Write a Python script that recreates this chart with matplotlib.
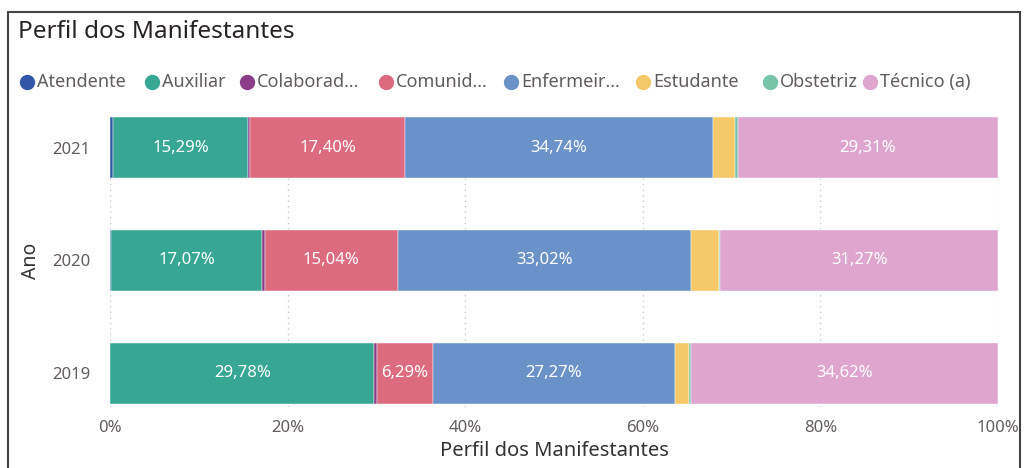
import numpy as np
import matplotlib.pyplot as plt
from matplotlib.lines import Line2D
from matplotlib.patches import Rectangle

# Data (percent shares per year)
anos = ['2019', '2020', '2021']
categorias = ['Atendente', 'Auxiliar', 'Colaborad...', 'Comunid...',
              'Enfermeir...', 'Estudante', 'Obstetriz', 'Técnico (a)']
atendente = [0.00, 0.10, 0.30]
auxiliar = [29.78, 17.07, 15.29]
colaborador = [0.25, 0.25, 0.20]
comunidade = [6.29, 15.04, 17.40]
enfermeiro = [27.27, 33.02, 34.74]
estudante = [1.65, 3.15, 2.43]
obstetriz = [0.14, 0.10, 0.33]
tecnico = [34.62, 31.27, 29.31]

series = [atendente, auxiliar, colaborador, comunidade,
          enfermeiro, estudante, obstetriz, tecnico]
cores = ['#3257A8', '#37A794', '#8B3D88', '#DD6B7F',
         '#6B91C9', '#F5C869', '#77C4A8', '#DEA6CF']

plt.rcParams['font.family'] = ['Noto Sans', 'DejaVu Sans']
txt = '#605E5C'
W, H = 1025, 468

fig = plt.figure(figsize=(10.25, 4.68), dpi=100)
ax = fig.add_axes([110 / W, 1 - 407 / H, 888 / W, 293 / H])

y = np.arange(len(anos))
left = np.zeros(len(anos))
for nome, vals, cor in zip(categorias, series, cores):
    vals = np.array(vals)
    bars = ax.barh(y, vals, left=left, height=0.54, color=cor,
                   edgecolor='white', linewidth=0.3, label=nome)
    labels = [f'{v:.2f}%'.replace('.', ',') if v >= 5 else '' for v in vals]
    ax.bar_label(bars, labels=labels, label_type='center',
                 color='white', fontsize=12)
    left += vals

ax.set_xlim(0, 100)
ax.set_ylim(-0.3, 2.3)
ax.set_xticks(range(0, 101, 20))
ax.set_xticklabels([f'{t}%' for t in range(0, 101, 20)])
ax.set_yticks(y)
ax.set_yticklabels(anos)
ax.tick_params(length=0, colors=txt, labelsize=12)
ax.tick_params(axis='x', pad=9)
ax.tick_params(axis='y', pad=14)
ax.grid(axis='x', color='#C8C8C8', linestyle=(0, (1, 3)), linewidth=1)
ax.set_axisbelow(True)
for s in ax.spines.values():
    s.set_visible(False)

ax.set_xlabel('Perfil dos Manifestantes', color='#333333', fontsize=14.5,
              labelpad=4)
ax.set_ylabel('Ano', color='#333333', fontsize=14, labelpad=8)

fig.text(18 / W, 1 - 32 / H, 'Perfil dos Manifestantes',
         fontsize=17.5, color='#252423', va='center')

# legend, laid out like the Power BI header
leg_x = [27, 152, 247, 386, 511, 643, 770, 870]
leg_y = 1 - 82 / H
for x, nome, cor in zip(leg_x, categorias, cores):
    fig.add_artist(Line2D([x / W], [leg_y], marker='o', markersize=10,
                          color=cor, linestyle='', transform=fig.transFigure))
    fig.text((x + 10) / W, leg_y, nome, fontsize=13, color=txt,
             va='center', ha='left')

# outer frame
fig.patches.append(Rectangle((8 / W, -0.02), 1012 / W,
                             1 - 12 / H + 0.02, transform=fig.transFigure,
                             fill=False, edgecolor='#444444', linewidth=1.5))

fig.savefig('out.png', dpi=100)
